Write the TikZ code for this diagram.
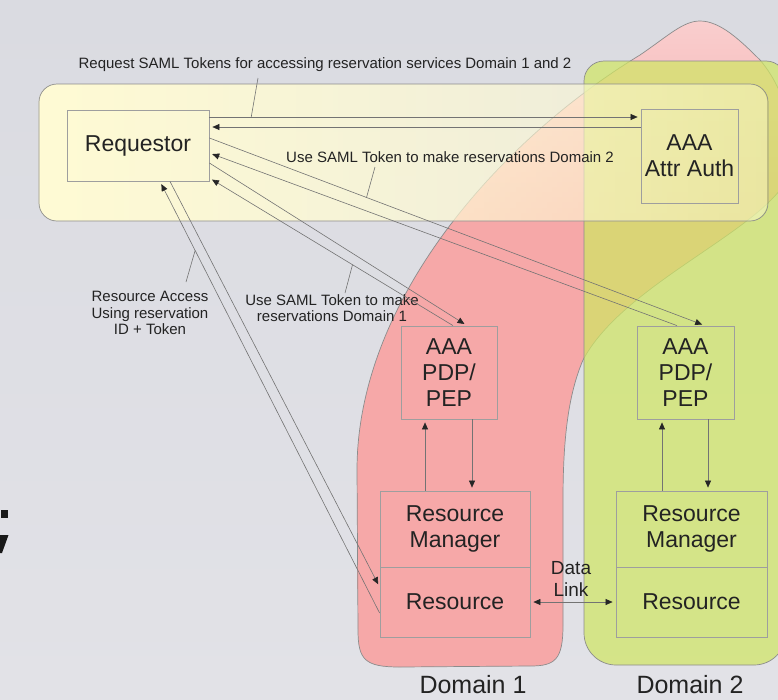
\documentclass[tikz,border=0pt]{standalone}
\usepackage{fontspec}
\setmainfont{Liberation Sans}
\usetikzlibrary{arrows.meta,fadings}
\definecolor{bgtop}{RGB}{218,219,225}
\definecolor{bgmid}{RGB}{236,236,238}
\definecolor{bgbot}{RGB}{226,226,231}
\definecolor{pinkf}{RGB}{246,168,168}
\definecolor{pinklt}{RGB}{249,206,206}
\definecolor{greenf}{RGB}{208,230,100}
\definecolor{yellowf}{RGB}{255,251,212}
\definecolor{edge}{RGB}{115,115,115}
\definecolor{txt}{RGB}{35,35,35}
\pgfdeclareverticalshading{pinkshade}{100bp}{color(0bp)=(pinkf); color(60bp)=(pinkf); color(75bp)=(pinklt); color(100bp)=(pinklt)}
\tikzfading[name=yfade, left color=transparent!0, right color=transparent!55]
\begin{document}
\begin{tikzpicture}[x=1pt,y=-1pt,
  box/.style={draw=black!38, line width=0.8pt, inner sep=0pt, align=center, text=txt,
    font=\fontsize{23}{26}\selectfont},
  lab/.style={font=\fontsize{15}{16.5}\selectfont, text=txt, align=center, inner sep=1pt},
  conn/.style={draw=edge, line width=0.6pt},
  tip/.tip={Triangle[length=7pt,width=6pt,color=black!85]},
  arr/.style={conn, -tip, shorten >=3pt},
  shapeedge/.style={draw=black!45, line width=0.7pt}]
\clip (0,0) rectangle (778,699);
\shade[top color=bgtop, middle color=bgmid, bottom color=bgbot] (0,0) rectangle (778,699);
% fragment of slide title at left edge
\fill[black!90] (0.5,510) rectangle (8,518);
\fill[black!90] (0,535) -- (8.5,535) -- (2,553) -- (0,553) -- cycle;
% Domain 1 (pink)
\shadedraw[shading=pinkshade, shapeedge] (357,470) .. controls (357,300) and (500,140) .. (640,55)
  .. controls (668,36) and (683,21) .. (700,21)
  .. controls (720,21) and (740,40) .. (760,60)
  .. controls (790,95) and (800,150) .. (780,190)
  .. controls (740,240) and (620,290) .. (583,360)
  .. controls (568,395) and (563,440) .. (563,500)
  -- (563,625) .. controls (563,660) and (555,666) .. (530,666)
  -- (400,667) .. controls (365,667) and (358,660) .. (358,630) -- cycle;
% Domain 2 (green)
\path[fill=greenf, fill opacity=0.72, shapeedge] (584,300) [rounded corners=20pt] -- (584,61) -- (786,61)
  [rounded corners=32pt] -- (786,665) -- (584,665) -- cycle;
% yellow band
\fill[yellowf, path fading=yfade, rounded corners=18pt] (39,84) rectangle (768,221);
\draw[shapeedge, rounded corners=18pt] (39,84) rectangle (768,221);
% nodes
\node[box, minimum width=142pt, minimum height=71pt] (req) at (138,145.5) {Requestor};
\node[box, minimum width=97pt, minimum height=94pt] (aaa) at (689.5,156) {AAA\\Attr Auth};
\node[box, minimum width=96pt, minimum height=93pt] (pdp1) at (449,372.5) {AAA\\PDP/\\PEP};
\node[box, minimum width=97pt, minimum height=93pt] (pdp2) at (685.5,372.5) {AAA\\PDP/\\PEP};
\node[box, minimum width=150pt, minimum height=76pt] (rm1) at (455,529) {Resource\\Manager};
\node[box, minimum width=150pt, minimum height=70pt] (res1) at (455,602) {Resource};
\node[box, minimum width=151pt, minimum height=76pt] (rm2) at (691.5,529) {Resource\\Manager};
\node[box, minimum width=151pt, minimum height=70pt] (res2) at (691.5,602) {Resource};
% labels
\node[lab] (l1) at (325,65) {Request SAML Tokens for accessing reservation services Domain 1 and 2};
\node[lab] (l2) at (450,157) {Use SAML Token to make reservations Domain 2};
\node[lab] (l3) at (332,308) {Use SAML Token to make\\reservations Domain 1};
\node[lab] (l4) at (150,313) {Resource Access\\Using reservation\\ID + Token};
\node[font=\fontsize{19}{22}\selectfont, text=txt, align=center, inner sep=0pt] (dl) at (571,579) {Data\\Link};
\node[font=\fontsize{25}{28}\selectfont, text=txt, anchor=base, inner sep=0pt] (d1) at (473,693) {Domain 1};
\node[font=\fontsize{25}{28}\selectfont, text=txt, anchor=base, inner sep=0pt] (d2) at (690,693) {Domain 2};
% connectors Requestor <-> Attr Auth
\draw[arr] ([yshift=28.5pt]req.east) -- coordinate[pos=0.097] (c1) ([yshift=39pt]aaa.west);
\draw[arr] ([yshift=29pt]aaa.west) -- ([yshift=18.5pt]req.east);
% Requestor <-> PDP domain 2
\draw[arr] ([yshift=7.5pt]req.east) -- coordinate[pos=0.317] (c2) ([xshift=19.5pt]pdp2.north);
\draw[arr] ([xshift=-8.5pt]pdp2.north) -- ([yshift=-7.5pt]req.east);
% Requestor <-> PDP domain 1
\draw[arr] ([yshift=-17.5pt]req.east) -- ([xshift=18pt]pdp1.north);
\draw[arr] ([xshift=4pt]pdp1.north) -- coordinate[pos=0.4125] (c3) ([yshift=-32.5pt]req.east);
% Requestor <-> Resource
\draw[arr] ([xshift=32pt]req.south) -- ([yshift=15pt]res1.west);
\draw[arr] ([yshift=-11pt]res1.west) -- coordinate[pos=0.84] (c4) ([xshift=22pt]req.south);
% inside domains
\draw[arr] ([xshift=-30pt]rm1.north) -- ([xshift=-24pt]pdp1.south);
\draw[arr] ([xshift=23pt]pdp1.south) -- ([xshift=17pt]rm1.north);
\draw[arr] ([xshift=-29.5pt]rm2.north) -- ([xshift=-23.5pt]pdp2.south);
\draw[arr] ([xshift=22.5pt]pdp2.south) -- ([xshift=16.5pt]rm2.north);
\draw[conn, tip-tip, shorten <=3pt, shorten >=3pt] (res1.east) -- (res2.west);
% label leaders
\coordinate (e1) at (258,78);
\coordinate (e2) at (375,167);
\coordinate (e3) at (345,293);
\coordinate (e4) at (186,282);
\draw[conn] (c1) -- (e1);
\draw[conn] (c2) -- (e2);
\draw[conn] (c3) -- (e3);
\draw[conn] (c4) -- (e4);
\end{tikzpicture}
\end{document}
